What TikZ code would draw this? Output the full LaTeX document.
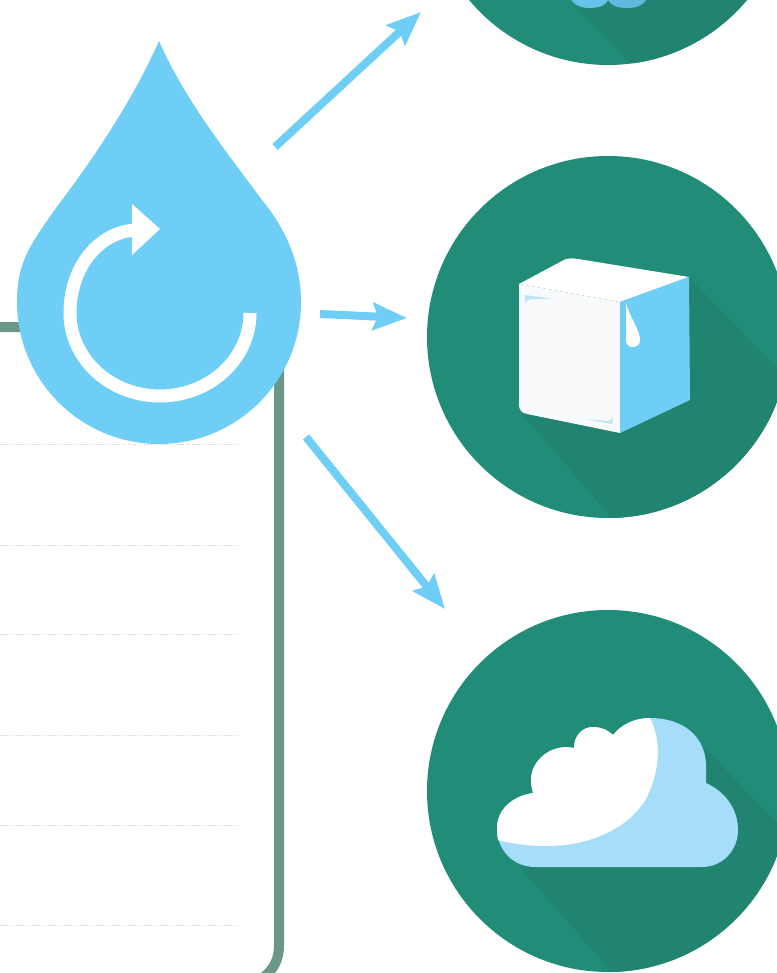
\documentclass[tikz,border=0pt]{standalone}
\usetikzlibrary{calc, arrows.meta}
\definecolor{dropblue}{HTML}{6ECEF6}
\definecolor{cloudblue}{HTML}{A6DDF9}
\definecolor{badgegreen}{HTML}{218C78}
\definecolor{shadegreen}{HTML}{208470}
\definecolor{framegreen}{HTML}{6C9688}
\definecolor{rulegrey}{HTML}{DADADA}
\definecolor{icewhite}{HTML}{F8FAFC}
\definecolor{icemelt}{HTML}{BDE3F6}
\definecolor{lobeone}{HTML}{65C3E9}
\definecolor{lobetwo}{HTML}{5FB8DD}
\tikzset{
  flowarrow/.style={draw=dropblue, line width=8pt,
    -{Stealth[length=34pt, width=27pt, inset=5pt, fill=dropblue]}},
  badge/.style={fill=badgegreen},
  shade/.style={fill=shadegreen}
}

\begin{document}
\begin{tikzpicture}[x=1pt, y=-1pt]
  \useasboundingbox (0,0) rectangle (776,973);
  \coordinate (TopC) at (608,-116);
  \coordinate (IceC) at (608,337);
  \coordinate (CloudC) at (608,791);
  \coordinate (UpS) at (275,147);
  \coordinate (UpE) at (421,12);
  \coordinate (MidS) at (320,314);
  \coordinate (MidE) at (407,318);
  \coordinate (LowS) at (306,437);
  \coordinate (LowE) at (445,609);
  % frame and rules
  \foreach \y in {444,545,634.5,735,825,925.5}
    \draw[rulegrey, line width=1pt, dash pattern=on 1.5pt off 1.7pt] (0,\y) -- (237,\y);
  \draw[framegreen, line width=10pt] (-5,327) -- (279,327) -- (279,945)
    .. controls (279,958) and (275,968) .. (264,977);
  % drop
  \fill[dropblue] (159,41) .. controls (185,100) and (225,150) .. (262,200)
    .. controls (285,228) and (301,262) .. (301,302)
    arc (0:180:142)
    .. controls (17,262) and (30,245) .. (56,208)
    .. controls (100,150) and (135,95) .. (159,41) -- cycle;
  \draw[white, line width=13pt] (250,313) arc [start angle=0, end angle=180, x radius=90, y radius=83]
    .. controls (70,268) and (98,232) .. (136,230);
  \fill[white] (132,204) -- (160,229) -- (132,255) -- cycle;
  % arrows
  \draw[flowarrow] (UpS) -- (UpE);
  \draw[flowarrow] (MidS) -- (MidE);
  \draw[flowarrow] (LowS) -- (LowE);
  % top badge
  \fill[badge] (TopC) circle (181);
  \begin{scope}
    \clip (TopC) circle (181);
    \fill[shade] (577,8) -- (630,63) -- (800,75) -- (800,-50) -- (577,-50) -- cycle;
  \end{scope}
  \fill[lobeone] (570,-2) .. controls (574,5) and (580,8) .. (590,8)
    .. controls (600,8) and (606,5) .. (608,0) -- (608,-2) -- cycle;
  \fill[lobetwo] (608,-2) -- (608,0) .. controls (611,6) and (618,8) .. (627,8)
    .. controls (637,8) and (644,5) .. (647,-2) -- cycle;
  % ice badge
  \fill[badge] (IceC) circle (181);
  \begin{scope}
    \clip (IceC) circle (181);
    \fill[shade] (689,277) -- (776,367) -- (900,495) -- (730,640) -- (610,516) -- (523,415) -- cycle;
  \end{scope}
  \fill[white] (519,284) -- (562,261) .. controls (566,258) and (572,258) .. (578,259)
    -- (689,277) -- (620,302) -- cycle;
  \fill[icewhite] (519,284) -- (620,302) -- (620,433) -- (527,414)
    .. controls (522,413) and (519,410) .. (519,405) -- cycle;
  \fill[icemelt] (525,295) -- (553,299) -- (534,299) .. controls (528,299) and (525,301) .. (525,305) -- cycle;
  \fill[icemelt] (613,415) -- (612,424) -- (585,419) -- (606,421) .. controls (611,421) and (612,419) .. (613,415) -- cycle;
  \fill[dropblue] (620,302) -- (689,277) -- (690,400) -- (620,433) -- cycle;
  \fill[white] (626,303) .. controls (629,316) and (640,330) .. (640,340)
    .. controls (640,345) and (636,347) .. (633,347)
    .. controls (628,347) and (626,344) .. (626,340) -- cycle;
  % cloud badge
  \fill[badge] (CloudC) circle (181);
  \begin{scope}
    \clip (CloudC) circle (181);
    \fill[shade] (700,743) -- (776,822) -- (900,950) -- (730,1100) -- (610,970) -- (520,867) -- cycle;
  \end{scope}
  \fill[cloudblue] (535,867) -- (702,867) .. controls (722,867) and (738,851) .. (738,830)
    .. controls (738,808) and (724,791) .. (706,783)
    -- (706,763) .. controls (704,735) and (682,718) .. (650,718)
    .. controls (634,718) and (621,725) .. (613,735)
    .. controls (608,730) and (601,727) .. (593,727)
    .. controls (582,727) and (574,736) .. (574,748)
    .. controls (552,743) and (531,760) .. (531,780)
    .. controls (531,785) and (532,789) .. (533,793)
    .. controls (512,796) and (497,810) .. (497,828)
    .. controls (497,850) and (513,867) .. (535,867) -- cycle;
  \fill[white] (650,718) .. controls (660,738) and (662,765) .. (647,797)
    .. controls (630,828) and (590,846) .. (547,846)
    .. controls (530,846) and (512,844) .. (498,840)
    .. controls (497,836) and (497,832) .. (497,828)
    .. controls (497,810) and (512,796) .. (533,793)
    .. controls (532,789) and (531,785) .. (531,780)
    .. controls (531,760) and (552,743) .. (574,748)
    .. controls (574,736) and (582,727) .. (593,727)
    .. controls (601,727) and (608,730) .. (613,735)
    .. controls (621,725) and (634,718) .. (650,718) -- cycle;
\end{tikzpicture}
\end{document}
